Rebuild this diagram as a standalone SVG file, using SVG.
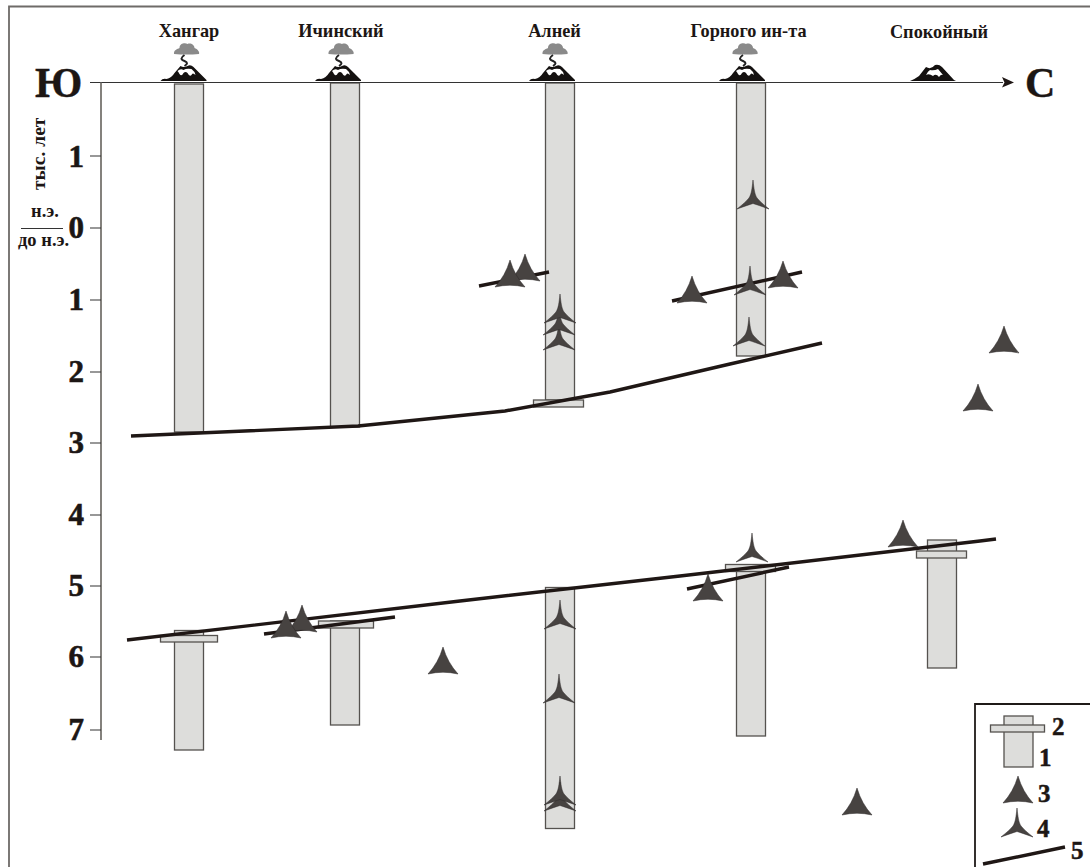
<svg xmlns="http://www.w3.org/2000/svg" width="1090" height="867" viewBox="0 0 1090 867">
<style>
text{font-family:"Liberation Serif","Times New Roman",serif;font-weight:bold;fill:#1c1614}
.name{font-size:18.300px;text-anchor:middle}
.num{font-size:31px;text-anchor:end;stroke:#1c1614;stroke-width:.6}
.leg{font-size:25px;stroke:#1c1614;stroke-width:.5}
.dir{font-size:42px;stroke:#1c1614;stroke-width:.4}
.small{font-size:18.500px}
.col{fill:#dddddb;stroke:#55524f;stroke-width:1.300}
.thick{fill:none;stroke:#1f1715;stroke-width:3.400}
.tick{stroke:#333;stroke-width:1.200;fill:none}
.mark{fill:#474341;stroke:#2f2b2a;stroke-width:.5}
</style>
<defs>
<path id="t3" class="mark" d="M0 0Q4.500 15.500 15 27Q0 23.500 -15 27Q-4.500 15.500 0 0Z"/>
<path id="t4" class="mark" d="M0 0C1 9 1.500 14 4 18Q8 23 16 29Q5 25 0 23.500Q-5 25 -16 29Q-8 23 -4 18C-1.500 14 -1 9 0 0Z"/>
<g id="volcano">
<path d="M-12.500 -27C-13 -31 -9 -32 -7 -33C-7 -38 -1 -38.500 1 -37C4 -38.500 8 -36 8 -33C11 -32 13.500 -29 12.500 -27Q0 -26 -12.500 -27Z" fill="#8a8a8a"/>
<path d="M-2 -26Q-8 -22 -2 -20Q3 -18 -2 -15" fill="none" stroke="#222" stroke-width="2"/>
<path d="M-26 0Q-24 -3 -20 -2Q-15 -3 -12 -8L-6 -15Q-3 -13 1 -15Q4 -17 7 -14L13 -8L20 -1V0Z" fill="#141110"/>
<path d="M-9 -10Q-6 -13 -3 -11Q0 -13 5 -12Q8 -10 9 -6Q6 -9 5 -6Q3 -4 1 -8Q-1 -10 -3 -8Q-5 -4 -7 -7Q-8 -9 -9 -10Z" fill="#fff"/>
</g>
</defs>
<path id="frame" d="M1090 6.500H9V867" fill="none" stroke="#6e6b68" stroke-width="1.800"/>

<g id="col-hangar"><rect class="col" x="174.500" y="84" width="29" height="348"/><rect class="col" x="174.500" y="630.500" width="29" height="119.500"/><rect class="col" x="160.500" y="635.500" width="57" height="6.500"/><use href="#volcano" x="186.500" y="81"/><text class="name" x="189" y="37">Хангар</text></g>
<g id="col-ichinsky"><rect class="col" x="330.500" y="83" width="29" height="344"/><rect class="col" x="330.500" y="621" width="29" height="104"/><rect class="col" x="318.500" y="621" width="55" height="7"/><use href="#volcano" x="341" y="81"/><text class="name" x="341" y="37">Ичинский</text></g>
<g id="col-alney"><rect class="col" x="545.500" y="83" width="29" height="317"/><rect class="col" x="533.500" y="400" width="50" height="7"/><rect class="col" x="545.500" y="587.500" width="29" height="241"/><use href="#volcano" x="555" y="81"/><text class="name" x="554.500" y="37">Алней</text></g>
<g id="col-gorny"><rect class="col" x="736.500" y="83" width="29" height="273"/><rect class="col" x="736.500" y="570" width="29" height="166"/><rect class="col" x="725.500" y="564.500" width="50" height="7"/><use href="#volcano" x="745" y="81"/><text class="name" x="748.500" y="37">Горного ин-та</text></g>
<g id="col-spokoiny"><rect class="col" x="927.500" y="540" width="29" height="128"/><rect class="col" x="916.500" y="551" width="50" height="7"/><text class="name" x="939" y="38">Спокойный</text>
<path d="M-25 0Q-20 -2 -16 -5L-9 -14Q-4 -11 0 -16Q4 -17 7 -14L19 -1L21 0Z" transform="translate(935,81)" fill="#141110"/><path d="M-9 -6Q-7 -10 -5 -11Q-1 -10 3 -12L8 -6Q6 -7 4 -4Q1 -8 -2 -5Q-6 -8 -9 -6Z" transform="translate(935,81)" fill="#fff"/></g>

<g id="connectors">
<path class="tick" d="M90 82.500H1003"/>
<path d="M1002 77L1014 82.500L1002 87.500L1004.500 82.500Z" fill="#1f1715"/>
<path d="M101 82.500V740" fill="none" stroke="#77746f" stroke-width="1.800"/>
<path class="tick" d="M90 156H101M90 228H101M90 300H101M90 372H101M90 443H101M90 515H101M90 586H101M90 657H101M90 730H101"/>
<path class="thick" d="M131 436L358 426L505 411L610 392L730 364L822 343"/>
<path class="thick" d="M127 640L460 601L680 576L980 541L996 539"/>
<path class="thick" d="M264 634L395 617"/>
<path class="thick" d="M687 589L789 567"/>
<path class="thick" d="M479 286L549 272"/>
<path class="thick" d="M672 301L802 272"/>
</g>

<g id="markers">
<use href="#t3" x="525" y="254"/><use href="#t3" x="510" y="260"/>
<use href="#t3" x="692" y="276"/><use href="#t3" x="783" y="261"/>
<use href="#t3" x="1004" y="326"/><use href="#t3" x="978" y="384"/>
<use href="#t3" x="443" y="647"/>
<use href="#t3" x="302" y="605"/><use href="#t3" x="286" y="611"/>
<use href="#t3" x="708" y="574"/><use href="#t3" x="903" y="520"/><use href="#t3" x="857" y="788"/>
<use href="#t4" x="753" y="180"/><use href="#t4" x="750" y="266"/><use href="#t4" x="749" y="317"/>
<use href="#t4" x="559" y="321"/><use href="#t4" x="559" y="306"/><use href="#t4" x="560" y="294"/>
<use href="#t4" x="752" y="533"/>
<use href="#t4" x="560" y="600"/><use href="#t4" x="559" y="674"/><use href="#t4" x="560" y="782"/><use href="#t4" x="560" y="776"/>
</g>

<g id="axis-labels">
<text class="dir" x="35" y="97">Ю</text>
<text class="dir" x="1025" y="97">С</text>
<text class="num" x="84" y="167">1</text><text class="num" x="84" y="238">0</text><text class="num" x="84" y="310">1</text><text class="num" x="84" y="382">2</text><text class="num" x="84" y="453">3</text><text class="num" x="84" y="525">4</text><text class="num" x="84" y="596">5</text><text class="num" x="84" y="667">6</text><text class="num" x="84" y="740">7</text>
<text font-size="19.500" transform="translate(45,190) rotate(-90)">тыс. лет</text>
<text class="small" x="31" y="217">н.э.</text>
<path d="M21 228.500H63" stroke="#333" stroke-width="1.200"/>
<text class="small" x="18" y="246">до н.э.</text>
</g>

<g id="legend">
<path d="M1090 704H975V867" fill="none" stroke="#1f1a18" stroke-width="1.800"/>
<rect class="col" x="1004" y="716" width="29" height="51"/>
<rect class="col" x="990.500" y="725" width="54" height="7"/>
<use href="#t3" x="1018" y="776"/>
<use href="#t4" x="1017" y="808"/>
<path class="thick" d="M983 864L1065 847"/>
<text class="leg" x="1052" y="735">2</text><text class="leg" x="1039" y="766">1</text><text class="leg" x="1038" y="802">3</text><text class="leg" x="1037" y="837">4</text><text class="leg" x="1071" y="859">5</text>
</g>
</svg>
